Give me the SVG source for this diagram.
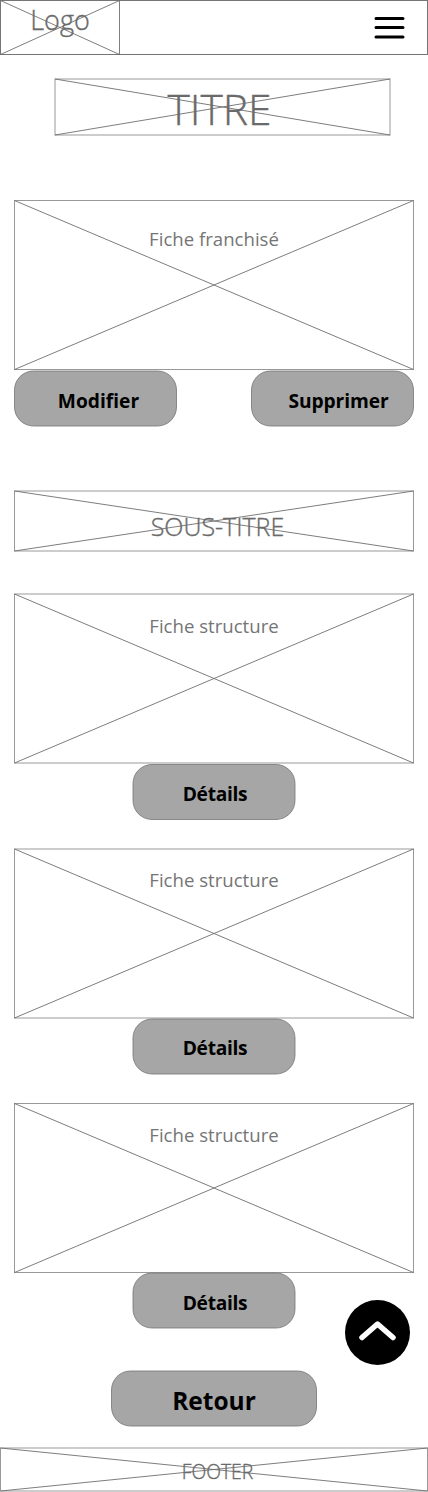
<svg xmlns="http://www.w3.org/2000/svg" width="428" height="1492" viewBox="0 0 428 1492">
<style>
.ph{fill:none;stroke:#757575;stroke-width:1}
.ln{fill:none;stroke:#6e6e6e;stroke-width:.9}
.bd{fill:none;stroke:#999;stroke-width:1}
.t{font-family:"Open Sans","Noto Sans",sans-serif;fill:#6a6a6a;stroke:#6a6a6a;stroke-width:.35;text-anchor:middle;font-weight:300}
.f{font-family:"Open Sans","Noto Sans",sans-serif;fill:#757575;text-anchor:middle;font-weight:400;font-size:18.600px}
.b{font-family:"Open Sans","Noto Sans",sans-serif;fill:#000;font-weight:700;text-anchor:middle;font-size:19.200px}
.btn{fill:#a6a6a6;stroke:#757575;stroke-width:.8}
</style>
<rect width="428" height="1492" fill="#fff"/>
<g id="header"><rect class="ph" x="0.5" y="0.5" width="427" height="54"/>
<path class="ln" d="M119.500 .5V54.500M.5 .5L119.500 54.500M.5 54.500L119.500 .5"/>
<text class="t" x="60" y="29.500" font-size="27">Logo</text></g>
<g id="menu"><path fill="none" stroke="#000" stroke-width="3" stroke-linecap="round" d="M376 18.500H403M376 27.500H403M376 37H403"/></g>
<g id="titre"><rect class="bd" x="55" y="79" width="335" height="56"/><path class="ln" d="M55 79L390 135M55 135L390 79"/>
<text class="t" x="219.500" y="125" font-size="42.500">TITRE</text></g>
<g id="fiche-franchise"><rect class="bd" x="14.500" y="200.500" width="399" height="169"/><path class="ln" d="M14.500 200.500L413.500 369.500M14.500 369.500L413.500 200.500"/>
<text class="f" x="214" y="246">Fiche franchisé</text></g>
<g id="btn-modifier"><rect class="btn" x="14.500" y="371" width="162" height="55" rx="19"/><text class="b" x="98.500" y="407.500">Modifier</text></g>
<g id="btn-supprimer"><rect class="btn" x="251.500" y="371" width="162" height="55" rx="19"/><text class="b" x="338.500" y="407.500" letter-spacing="-.1">Supprimer</text></g>
<g id="sous-titre"><rect class="bd" x="14.500" y="491" width="399" height="60"/><path class="ln" d="M14.500 491L413.500 551M14.500 551L413.500 491"/>
<text class="t" x="217.500" y="536" font-size="25">SOUS-TITRE</text></g>
<g id="fiche-1"><rect class="bd" x="14.500" y="594" width="399" height="169"/><path class="ln" d="M14.500 594L413.500 763M14.500 763L413.500 594"/>
<text class="f" x="214" y="633">Fiche structure</text></g>
<g id="btn-details-1"><rect class="btn" x="133" y="764.500" width="162" height="55" rx="19"/><text class="b" x="215" y="801" letter-spacing="-.3">Détails</text></g>
<g id="fiche-2"><rect class="bd" x="14.500" y="849" width="399" height="169"/><path class="ln" d="M14.500 849L413.500 1018M14.500 1018L413.500 849"/>
<text class="f" x="214" y="887">Fiche structure</text></g>
<g id="btn-details-2"><rect class="btn" x="133" y="1019" width="162" height="55" rx="19"/><text class="b" x="215" y="1055" letter-spacing="-.3">Détails</text></g>
<g id="fiche-3"><rect class="bd" x="14.500" y="1103.500" width="399" height="169"/><path class="ln" d="M14.500 1103.500L413.500 1272.500M14.500 1272.500L413.500 1103.500"/>
<text class="f" x="214" y="1142">Fiche structure</text></g>
<g id="btn-details-3"><rect class="btn" x="133" y="1273" width="162" height="55" rx="19"/><text class="b" x="215" y="1310" letter-spacing="-.3">Détails</text></g>
<g id="btn-top"><circle cx="377.500" cy="1332.500" r="32.500" fill="#000"/><path fill="none" stroke="#fff" stroke-width="5.500" stroke-linecap="round" stroke-linejoin="round" d="M362 1337.500L377.500 1324L393 1337.500"/></g>
<g id="btn-retour"><rect class="btn" x="111.500" y="1371" width="205" height="55" rx="19"/><text class="b" x="214" y="1410" style="font-size:24.500px">Retour</text></g>
<g id="footer"><rect class="bd" x="0.500" y="1448" width="427" height="43"/><path class="ln" d="M.5 1448L427.500 1491M.5 1491L427.500 1448"/>
<text class="t" x="217.500" y="1479" font-size="19.300">FOOTER</text></g>
</svg>
